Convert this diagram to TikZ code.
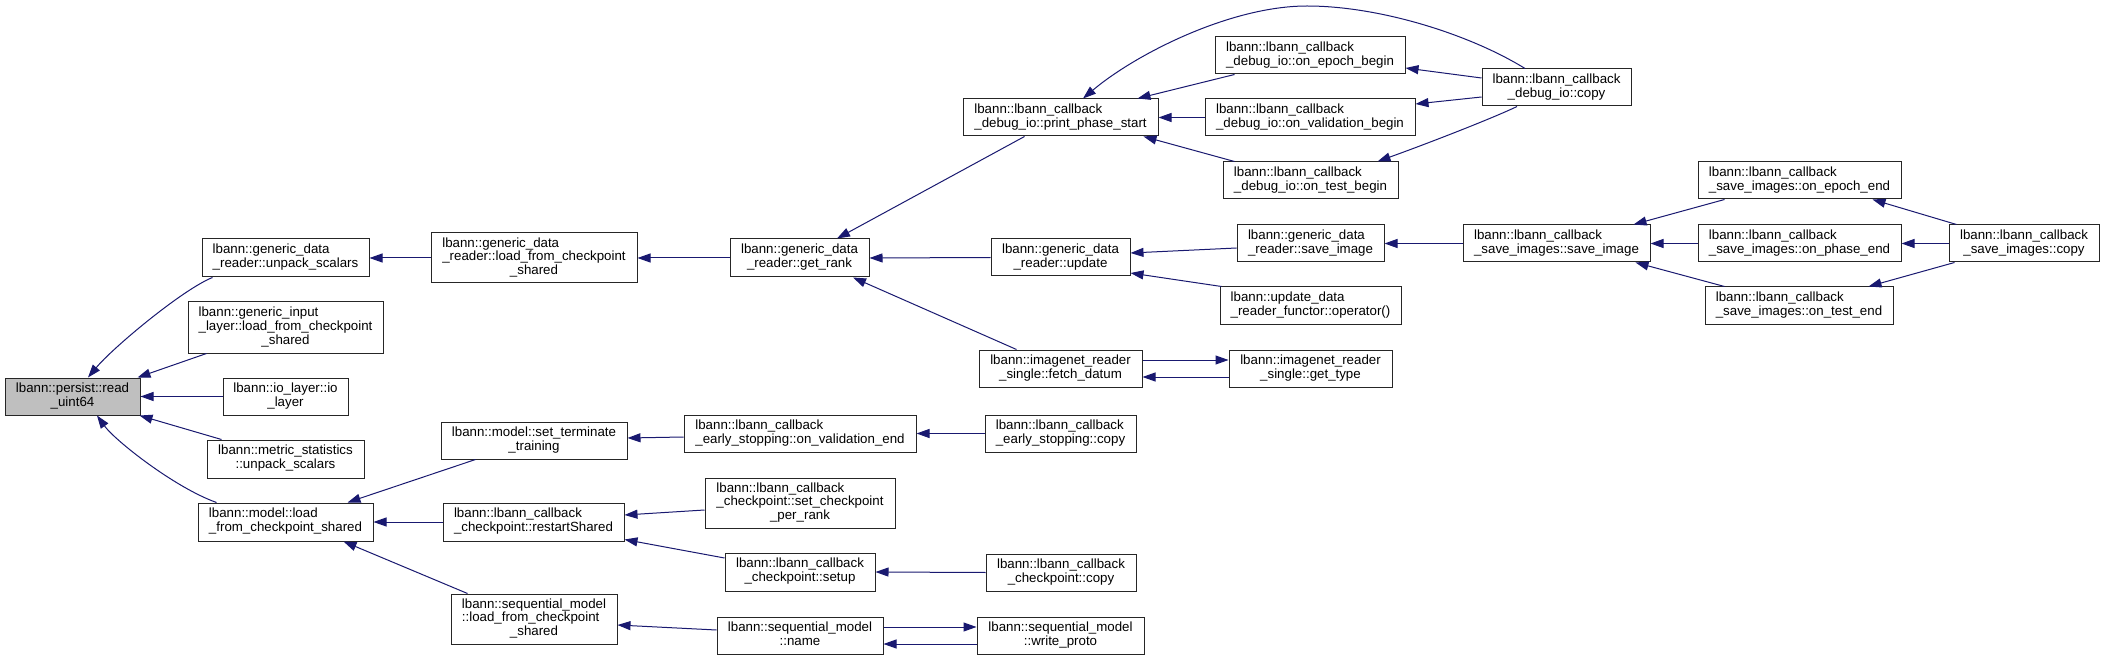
\documentclass[tikz,border=0pt]{standalone}
\usepackage{fontspec}
\setmainfont{Liberation Sans}
\usetikzlibrary{arrows.meta,calc}
\definecolor{edgeblue}{RGB}{25,25,112}
\definecolor{rootgray}{RGB}{191,191,191}
\newcommand\lblfont{\fontsize{13.3}{13.7}\selectfont}
\newcommand\lbltwo[2]{\begin{tabular}{@{}l@{}}#1\\\multicolumn{1}{@{}c@{}}{#2}\end{tabular}}
\newcommand\lblthree[3]{\begin{tabular}{@{}l@{}}#1\\#2\\\multicolumn{1}{@{}c@{}}{#3}\end{tabular}}
\tikzset{
  box/.style={draw=black!85, line width=1pt, fill=white, inner sep=0pt, font=\lblfont, align=center},
  rootbox/.style={box, fill=rootgray},
  call/.style={draw=edgeblue, line width=1pt, >={Triangle[length=13pt,width=9pt]}, <-},
}
\begin{document}
\begin{tikzpicture}[x=1pt,y=-1pt]
\useasboundingbox (0,0) rectangle (2104,660);
\fill[white] (0,0) rectangle (2104,660);
% column 1
\node[rootbox, minimum width=135pt, minimum height=37pt] (read) at (72.5,396.5) {\lbltwo{lbann::persist::read}{\_uint64}};
% column 2
\node[box, minimum width=167pt, minimum height=38pt] (gdrunpack) at (285.5,258) {\lbltwo{lbann::generic\_data}{\_reader::unpack\_scalars}};
\node[box, minimum width=195pt, minimum height=51pt] (gilload) at (285.5,327.5) {\lblthree{lbann::generic\_input}{\_layer::load\_from\_checkpoint}{\_shared}};
\node[box, minimum width=125pt, minimum height=37pt] (iolayer) at (285.5,396.5) {\lbltwo{lbann::io\_layer::io}{\_layer}};
\node[box, minimum width=157pt, minimum height=38pt] (metric) at (285.5,459) {\lbltwo{lbann::metric\_statistics}{::unpack\_scalars}};
\node[box, minimum width=175pt, minimum height=38pt] (modelload) at (285.5,522) {\lbltwo{lbann::model::load}{\_from\_checkpoint\_shared}};
% column 3
\node[box, minimum width=206pt, minimum height=50pt] (gdrload) at (534,258) {\lblthree{lbann::generic\_data}{\_reader::load\_from\_checkpoint}{\_shared}};
\node[box, minimum width=186pt, minimum height=37pt] (setterm) at (534,440.5) {\lbltwo{lbann::model::set\_terminate}{\_training}};
\node[box, minimum width=181pt, minimum height=38pt] (restart) at (533.5,522) {\lbltwo{lbann::lbann\_callback}{\_checkpoint::restartShared}};
\node[box, minimum width=166pt, minimum height=50pt] (seqload) at (534,619) {\lblthree{lbann::sequential\_model}{::load\_from\_checkpoint}{\_shared}};
% column 4
\node[box, minimum width=139pt, minimum height=38pt] (getrank) at (799.5,258) {\lbltwo{lbann::generic\_data}{\_reader::get\_rank}};
\node[box, minimum width=232pt, minimum height=37pt] (eove) at (800,433.5) {\lbltwo{lbann::lbann\_callback}{\_early\_stopping::on\_validation\_end}};
\node[box, minimum width=190pt, minimum height=50pt] (scpr) at (800,503) {\lblthree{lbann::lbann\_callback}{\_checkpoint::set\_checkpoint}{\_per\_rank}};
\node[box, minimum width=150pt, minimum height=38pt] (setup) at (800,572) {\lbltwo{lbann::lbann\_callback}{\_checkpoint::setup}};
\node[box, minimum width=166pt, minimum height=37pt] (seqname) at (800,635.5) {\lbltwo{lbann::sequential\_model}{::name}};
% column 5
\node[box, minimum width=195pt, minimum height=37pt] (pps) at (1060.5,117.5) {\lbltwo{lbann::lbann\_callback}{\_debug\_io::print\_phase\_start}};
\node[box, minimum width=139pt, minimum height=37pt] (update) at (1060.5,257.5) {\lbltwo{lbann::generic\_data}{\_reader::update}};
\node[box, minimum width=163pt, minimum height=37pt] (fetch) at (1060.5,368.5) {\lbltwo{lbann::imagenet\_reader}{\_single::fetch\_datum}};
\node[box, minimum width=151pt, minimum height=37pt] (ecopy) at (1060.5,433.5) {\lbltwo{lbann::lbann\_callback}{\_early\_stopping::copy}};
\node[box, minimum width=150pt, minimum height=37pt] (ckcopy) at (1061,572.5) {\lbltwo{lbann::lbann\_callback}{\_checkpoint::copy}};
\node[box, minimum width=167pt, minimum height=37pt] (wproto) at (1060.5,635.5) {\lbltwo{lbann::sequential\_model}{::write\_proto}};
% column 6
\node[box, minimum width=190pt, minimum height=37pt] (oeb) at (1310,55.5) {\lbltwo{lbann::lbann\_callback}{\_debug\_io::on\_epoch\_begin}};
\node[box, minimum width=210pt, minimum height=37pt] (ovb) at (1310,117.5) {\lbltwo{lbann::lbann\_callback}{\_debug\_io::on\_validation\_begin}};
\node[box, minimum width=175pt, minimum height=37pt] (otb) at (1310.5,180.5) {\lbltwo{lbann::lbann\_callback}{\_debug\_io::on\_test\_begin}};
\node[box, minimum width=147pt, minimum height=37pt] (gsi) at (1310.5,243.5) {\lbltwo{lbann::generic\_data}{\_reader::save\_image}};
\node[box, minimum width=181pt, minimum height=37pt] (functor) at (1310.5,305.5) {\lbltwo{lbann::update\_data}{\_reader\_functor::operator()}};
\node[box, minimum width=163pt, minimum height=37pt] (gettype) at (1310.5,368.5) {\lbltwo{lbann::imagenet\_reader}{\_single::get\_type}};
% column 7
\node[box, minimum width=149pt, minimum height=37pt] (dcopy) at (1556.5,87.5) {\lbltwo{lbann::lbann\_callback}{\_debug\_io::copy}};
\node[box, minimum width=187pt, minimum height=37pt] (ssi) at (1556.5,243.5) {\lbltwo{lbann::lbann\_callback}{\_save\_images::save\_image}};
% column 8
\node[box, minimum width=203pt, minimum height=37pt] (oee) at (1799.5,180.5) {\lbltwo{lbann::lbann\_callback}{\_save\_images::on\_epoch\_end}};
\node[box, minimum width=203pt, minimum height=37pt] (ope) at (1799.5,243.5) {\lbltwo{lbann::lbann\_callback}{\_save\_images::on\_phase\_end}};
\node[box, minimum width=188pt, minimum height=37pt] (ote) at (1799,305.5) {\lbltwo{lbann::lbann\_callback}{\_save\_images::on\_test\_end}};
% column 9
\node[box, minimum width=150pt, minimum height=37pt] (sscopy) at (2024,243.5) {\lbltwo{lbann::lbann\_callback}{\_save\_images::copy}};

% edges into read
\draw[call] ($(read.north)+(15.5,0)$) .. controls +(25,-30) and +(-30,12) .. ($(gdrunpack.south west)+(11,0)$);
\draw[call] ($(read.north east)+(-3,0)$) -- ($(gilload.south west)+(19,0)$);
\draw[call] (read.east) -- (iolayer.west);
\draw[call] ($(read.south east)+(-1,0)$) -- ($(metric.north west)+(15,0)$);
\draw[call] ($(read.south)+(24.5,0)$) .. controls +(18,25) and +(-42,-15) .. ($(modelload.north west)+(19,0)$);
% upper chain
\draw[call] (gdrunpack.east) -- (gdrload.west);
\draw[call] (gdrload.east) -- (getrank.west);
\draw[call] ($(getrank.north)+(37.5,0)$) -- ($(pps.south west)+(62,0)$);
\draw[call] (getrank.east) -- (update.west);
\draw[call] ($(getrank.south)+(53.5,0)$) -- ($(fetch.north west)+(38,0)$);
\draw[call] ($(pps.north east)+(-21,0)$) -- ($(oeb.south west)+(20,0)$);
\draw[call] (pps.east) -- (ovb.west);
\draw[call] ($(pps.south east)+(-15,0)$) -- ($(otb.north west)+(12,0)$);
\draw[call] ($(pps.north)+(22.5,0)$) .. controls +(52,-44) and +(-77,0) .. (1307,6) .. controls +(73,0) and +(-55,-34) .. ($(dcopy.north)+(-31.5,0)$);
\draw[call] ($(oeb.east)+(0,12.5)$) -- ($(dcopy.west)+(0,-9.5)$);
\draw[call] ($(ovb.east)+(0,-13.5)$) -- ($(dcopy.west)+(0,9.5)$);
\draw[call] ($(otb.north east)+(-21,0)$) .. controls +(50,-18) and +(-25,12) .. ($(dcopy.south)+(-39.5,0)$);
\draw[call] ($(update.east)+(0,-4.5)$) -- ($(gsi.west)+(0,4.5)$);
\draw[call] ($(update.east)+(0,15.5)$) -- ($(functor.north west)+(2,0)$);
\draw[call] (gsi.east) -- (ssi.west);
\draw[call] ($(ssi.north east)+(-17,0)$) -- ($(oee.south west)+(27,0)$);
\draw[call] (ssi.east) -- (ope.west);
\draw[call] ($(ssi.south east)+(-15,0)$) -- ($(ote.north west)+(20,0)$);
\draw[call] ($(oee.south east)+(-29,0)$) -- ($(sscopy.north west)+(8,0)$);
\draw[call] (ope.east) -- (sscopy.west);
\draw[call] ($(ote.north east)+(-25,0)$) -- ($(sscopy.south west)+(6,0)$);
\draw[call] ($(gettype.west)+(0,-8.5)$) -- ($(fetch.east)+(0,-8.5)$);
\draw[call] ($(fetch.east)+(0,8.5)$) -- ($(gettype.west)+(0,8.5)$);
% lower chain
\draw[call] ($(modelload.north east)+(-26,0)$) -- ($(setterm.south west)+(35,0)$);
\draw[call] (modelload.east) -- (restart.west);
\draw[call] ($(modelload.south east)+(-30,0)$) -- ($(seqload.north west)+(17,0)$);
\draw[call] ($(setterm.east)+(0,-2.5)$) -- ($(eove.west)+(0,3.5)$);
\draw[call] (eove.east) -- (ecopy.west);
\draw[call] ($(restart.east)+(0,-7)$) -- ($(scpr.west)+(0,7)$);
\draw[call] ($(restart.south east)+(0,-2)$) -- ($(setup.west)+(0,-14)$);
\draw[call] (setup.east) -- (ckcopy.west);
\draw[call] ($(seqload.east)+(0,6)$) -- ($(seqname.west)+(0,-5.5)$);
\draw[call] ($(wproto.west)+(0,-8.5)$) -- ($(seqname.east)+(0,-8.5)$);
\draw[call] ($(seqname.east)+(0,8.5)$) -- ($(wproto.west)+(0,8.5)$);
\end{tikzpicture}
\end{document}
